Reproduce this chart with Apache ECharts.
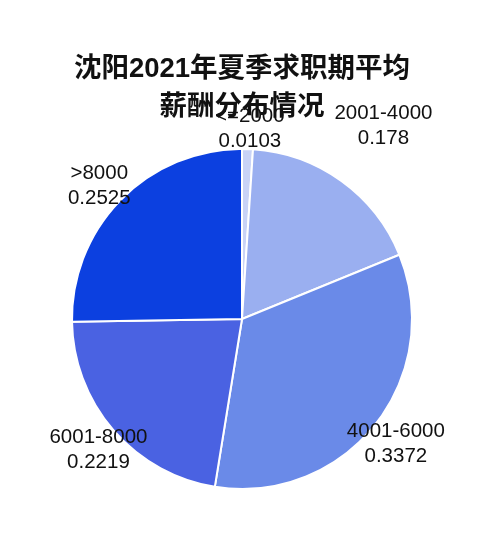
<!DOCTYPE html>
<html>
<head>
<meta charset="utf-8">
<script src="https://cdn.jsdelivr.net/npm/echarts@6/dist/echarts.min.js"></script>
<style>
html,body{margin:0;padding:0;background:#fff;}
#chart{width:500px;height:555px;}
</style>
</head>
<body>
<div id="chart"></div>
<script>
const categories = ['<=2000', '2001-4000', '4001-6000', '6001-8000', '>8000'];
const shares = [0.0103, 0.178, 0.3372, 0.2219, 0.2525];
const sliceColors = ['#c9d3f6', '#9aaff0', '#6a8ae8', '#4a62e2', '#0c40e0'];
const labelOffsets = [[5, -102], [90, -122], [85, 70], [-77, 73], [-80, -71]];

const chart = echarts.init(document.getElementById('chart'));
const fontFam = '"Liberation Sans", "Noto Sans CJK SC", sans-serif';
chart.setOption({
  backgroundColor: '#ffffff',
  animation: false,
  title: {
    text: '沈阳2021年夏季求职期平均\n薪酬分布情况',
    left: 237,
    top: 45,
    textAlign: 'center',
    textStyle: {
      fontFamily: fontFam,
      fontSize: 27.5,
      fontWeight: 'bold',
      color: '#111111',
      lineHeight: 38
    }
  },
  series: [{
    type: 'pie',
    center: [242, 319],
    radius: [0, 170],
    startAngle: 90,
    clockwise: true,
    avoidLabelOverlap: false,
    itemStyle: { borderColor: '#ffffff', borderWidth: 2 },
    labelLine: { show: false },
    emphasis: { disabled: true },
    data: categories.map((c, i) => ({
      name: c,
      value: shares[i],
      itemStyle: { color: sliceColors[i] },
      label: { offset: labelOffsets[i] }
    })),
    label: {
      show: true,
      position: 'inside',
      formatter: '{b}\n{c}',
      color: '#111111',
      fontFamily: fontFam,
      fontSize: 20.5,
      lineHeight: 25,
      align: 'center'
    }
  }]
});
</script>
</body>
</html>
